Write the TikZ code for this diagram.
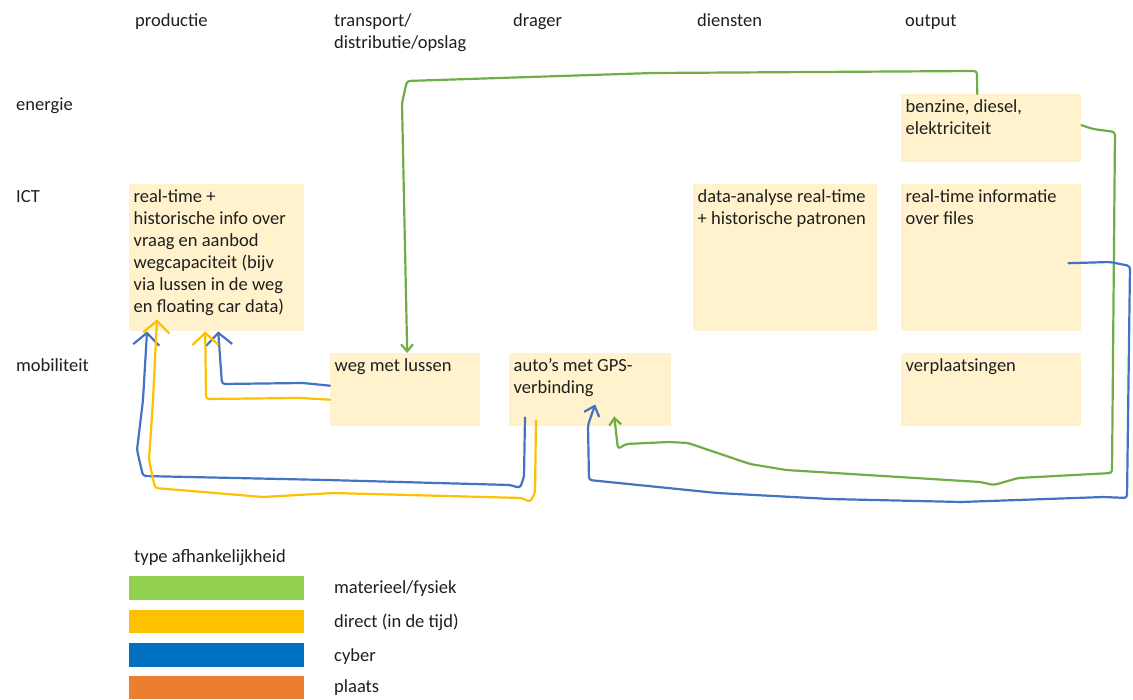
\documentclass[tikz,border=0pt]{standalone}
\usepackage{fontspec}
\setmainfont{Carlito}
\usetikzlibrary{arrows.meta}
\definecolor{boxfill}{HTML}{FFF2CC}
\definecolor{txt}{HTML}{1F1F1F}
\definecolor{lgreen}{HTML}{70AD47}
\definecolor{lblue}{HTML}{4472C4}
\definecolor{lyellow}{HTML}{FFC000}
\definecolor{bgreen}{HTML}{92D050}
\definecolor{bblue}{HTML}{0070C0}
\definecolor{borange}{HTML}{ED7D31}
\begin{document}
\begin{tikzpicture}[x=1pt,y=-1pt,
  lbl/.style={anchor=base west, inner sep=0pt, text=txt, font=\fontsize{18.5}{22}\selectfont},
  cell/.style={fill=boxfill, draw=none, anchor=north west, inner sep=0pt},
  celltext/.style={anchor=north west, inner sep=0pt, align=left, text=txt, font=\fontsize{18.5}{22}\selectfont},
  conn/.style={line width=2.2pt, line cap=round, line join=round, rounded corners=3pt},
  tipbig/.style={-{Straight Barb[length=12pt,width=26pt]}},
  tipmid/.style={-{Straight Barb[length=9pt,width=16pt]}},
  tipsmall/.style={-{Straight Barb[length=7pt,width=12pt]}},
  legbar/.style={anchor=north west, inner sep=0pt, minimum width=175pt, minimum height=23.5pt, draw=none}
]
\useasboundingbox (0,0) rectangle (1133,700);
\fill[white] (0,0) rectangle (1133,700);

% column headers
\node[lbl] (hprod) at (135,27) {productie};
\node[lbl] (htrans) at (334,27) {transport/};
\node[lbl] (htrans2) at (334,49) {distributie/opslag};
\node[lbl] (hdrag) at (513,27) {drager};
\node[lbl] (hdien) at (697,27) {diensten};
\node[lbl] (hout) at (905,27) {output};

% row labels
\node[lbl] (renergie) at (16,111) {energie};
\node[lbl] (rict) at (16,203) {ICT};
\node[lbl] (rmob) at (16,372) {mobiliteit};

% cells
\node[cell, minimum width=180pt, minimum height=68pt] (benz) at (901,94) {};
\node[cell, minimum width=175pt, minimum height=147pt] (rt) at (129,184) {};
\node[cell, minimum width=184pt, minimum height=147pt] (da) at (693,184) {};
\node[cell, minimum width=180pt, minimum height=147pt] (rti) at (901,184) {};
\node[cell, minimum width=150pt, minimum height=73pt] (weg) at (330,353) {};
\node[cell, minimum width=162pt, minimum height=73pt] (auto) at (509,353) {};
\node[cell, minimum width=180pt, minimum height=73pt] (verpl) at (901,353) {};

\node[celltext] (tbenz) at ([xshift=4.5pt,yshift=-3pt]benz.north west) {\strut benzine, diesel,\\ elektriciteit};
\node[celltext] (trt) at ([xshift=4.5pt,yshift=-3pt]rt.north west) {\strut real-time +\\ historische info over\\ vraag en aanbod\\ wegcapaciteit (bijv\\ via lussen in de weg\\ en floating car data)};
\node[celltext] (tda) at ([xshift=4.5pt,yshift=-3pt]da.north west) {\strut data-analyse real-time\\ + historische patronen};
\node[celltext] (trti) at ([xshift=4.5pt,yshift=-3pt]rti.north west) {\strut real-time informatie\\ over files};
\node[celltext] (tweg) at ([xshift=4.5pt,yshift=-3pt]weg.north west) {\strut weg met lussen};
\node[celltext] (tauto) at ([xshift=4.5pt,yshift=-3pt]auto.north west) {\strut auto's met GPS-\\ verbinding};
\node[celltext] (tverpl) at ([xshift=4.5pt,yshift=-3pt]verpl.north west) {\strut verplaatsingen};

% connectors
\draw[conn, lgreen, tipsmall] ([xshift=-14pt]benz.north) -- (977,71) -- (653,73) -- (407,81) -- (402,103) -- ([xshift=2pt]weg.north);

\draw[conn, lgreen, tipsmall] ([yshift=3pt]benz.east) -- (1093,129) -- (1115,132) -- (1112,473) -- (1018,478) -- (994,485) -- (980,482) -- (786,470) -- (750,464) -- (688,443) -- (669,442) -- (626,444) -- (618,449) -- ([xshift=24pt,yshift=10pt]auto.south);

\draw[conn, lblue, tipmid] ([xshift=-13pt,yshift=-5.5pt]rti.east) -- (1110,262) -- (1130,266) -- (1127,498) -- (1104,497) -- (961,502) -- (830,499) -- (717,493) -- (589,480) -- (588,425) -- ([xshift=5pt,yshift=22pt]auto.south);

\draw[conn, lblue, tipbig] ([yshift=4pt]weg.west) -- (303,383) -- (222,384) -- ([xshift=1.5pt]rt.south);

\draw[conn, lyellow, tipbig] ([yshift=-10pt]weg.west) -- (300,398) -- (206,399) -- ([xshift=-11.5pt]rt.south);

\draw[conn, lblue, tipbig] ([xshift=16pt,yshift=9pt]auto.south west) -- (524,477) -- (520,488) -- (510,485) -- (327,480) -- (143,476) -- (137,450) -- (143,400) -- ([xshift=18pt]rt.south west);

\draw[conn, lyellow, tipbig] ([xshift=27pt,yshift=6pt]auto.south west) -- (535,493) -- (530,502) -- (522,498) -- (333,493) -- (263,497) -- (155,488) -- (149,460) -- (153,400) -- ([xshift=28pt,yshift=12pt]rt.south west);

% legend
\node[lbl] (legtitle) at (134,562) {type afhankelijkheid};
\node[legbar, fill=bgreen] (barg) at (129,576) {};
\node[legbar, fill=lyellow] (bary) at (129,609.5) {};
\node[legbar, fill=bblue] (barb) at (129,643) {};
\node[legbar, fill=borange] (baro) at (129,675.5) {};
\node[lbl] (legg) at (334,593) {materieel/fysiek};
\node[lbl] (legy) at (334,627) {direct (in de tijd)};
\node[lbl] (legb) at (334,661) {cyber};
\node[lbl] (lego) at (334,692) {plaats};
\end{tikzpicture}
\end{document}
